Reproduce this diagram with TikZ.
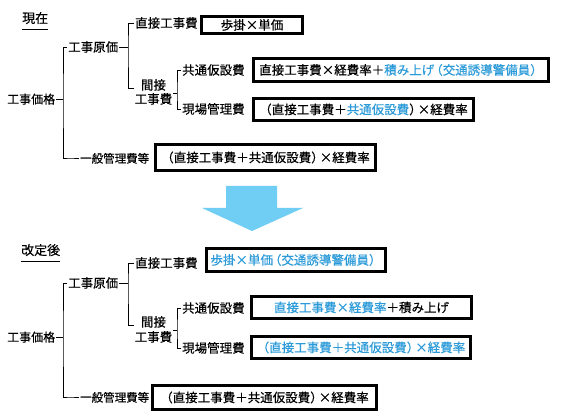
\documentclass[tikz,border=0pt]{standalone}
\usepackage{fontspec}
\setmainfont{Noto Sans CJK JP}[FakeBold=0.35]
\usetikzlibrary{calc}
\definecolor{tb}{HTML}{2A9AD8}
\definecolor{arrowblue}{HTML}{70CDF3}
\newcommand\jpf{\fontsize{12.5}{14}\selectfont}
\newcommand\jpm{\fontsize{12}{14}\selectfont}
\newcommand\jps{\fontsize{11.5}{14}\selectfont}
\newcommand\jph{\fontsize{13}{15}\selectfont}
\newcommand\tk{\kern-4pt}
\tikzset{
  lbl/.style={inner sep=1pt, anchor=west, font=\jpf, text height=9.4pt, text depth=0pt},
  clbl/.style={inner sep=1pt, font=\jpf, text height=9.4pt, text depth=0pt},
  hdr/.style={inner sep=1pt, anchor=west, font=\jph, text height=10pt, text depth=0pt},
  formbox/.style={draw, line width=2.6pt, inner sep=0pt, font=\jpf, text height=9.4pt, text depth=0pt},
  tree/.style={line width=0.7pt},
}
\begin{document}
\begin{tikzpicture}[x=1pt,y=-1pt]
\useasboundingbox (0,0) rectangle (566,419);
\fill[white] (0,0) rectangle (566,419);

% ---------- top: 現在 ----------
\node[hdr] (genzai) at (21,18) {現在};
\draw[line width=1.2pt] ($(genzai.south west)+(1,5.5)$) -- ($(genzai.south east)+(-1,5.5)$);

\node[lbl, font=\jpm] (kakaku1) at (6,99) {工事価格};
\node[lbl] (genka1) at (67,47) {工事原価};
\node[lbl, font=\jps] (ippan1) at (79,158) {一般管理費等};
\node[lbl] (choku1) at (134,23) {直接工事費};
\node[clbl] (kan1) at (153.5,85) {間接};
\node[clbl] (kohi1) at (153.5,99) {工事費};
\node[lbl] (kyotsu1) at (181,70) {共通仮設費};
\node[lbl] (genba1) at (181,109) {現場管理費};

\coordinate (t1) at (63,99);
\coordinate (j2) at (128,47);
\coordinate (j3) at (177,93);

\draw[tree] (kakaku1.east) -- (t1);
\draw[tree] (genka1.west) -| (t1) |- ([shift={(-9,0)}]ippan1.west) -- (ippan1.west);
\draw[tree] (genka1.east) -- (j2);
\draw[tree] (choku1.west) -| (j2) |- ($(kan1.west)+(-6,3)$);
\draw[tree] ($(kohi1.east)+(0,-6)$) -- (j3);
\draw[tree] (kyotsu1.west) -| (j3) |- (genba1.west);

\node[formbox, minimum width=101pt, minimum height=17pt] (b1) at (252,25) {歩掛×単価};
\node[formbox, minimum width=295pt, minimum height=23.4pt] (b2) at (401,70)
  {直接工事費×経費率＋\textcolor{tb}{積み上げ\tk（交通誘導警備員）}};
\node[formbox, minimum width=220pt, minimum height=22.4pt] (b3) at (363.5,109.5)
  {（直接工事費＋\textcolor{tb}{共通仮設費}）\tk×経費率};
\node[formbox, minimum width=220pt, minimum height=26.4pt] (b4) at (265.5,157.5)
  {（直接工事費＋共通仮設費）\tk×経費率};

% ---------- arrow ----------
\fill[arrowblue] (226,186) -- (277,186) -- (277,208) -- (303,208) -- (252,231) -- (202,208) -- (226,208) -- cycle;

% ---------- bottom: 改定後 ----------
\node[hdr] (kaitei) at (20,250) {改定後};
\draw[line width=1.2pt] ($(kaitei.south west)+(1,5.5)$) -- ($(kaitei.south east)+(-1,5.5)$);

\node[lbl, font=\jpm] (kakaku2) at (6,337) {工事価格};
\node[lbl] (genka2) at (67,283) {工事原価};
\node[lbl, font=\jps] (ippan2) at (79,397) {一般管理費等};
\node[lbl] (choku2) at (134,263) {直接工事費};
\node[clbl] (kan2) at (153.5,322) {間接};
\node[clbl] (kohi2) at (153.5,337) {工事費};
\node[lbl] (kyotsu2) at (181,308) {共通仮設費};
\node[lbl] (genba2) at (181,348) {現場管理費};

\coordinate (t2) at (63,337);
\coordinate (j4) at (128,283);
\coordinate (j5) at (177,330);

\draw[tree] (kakaku2.east) -- (t2);
\draw[tree] (genka2.west) -| (t2) |- ([shift={(-9,0)}]ippan2.west) -- (ippan2.west);
\draw[tree] (genka2.east) -- (j4);
\draw[tree] (choku2.west) -| (j4) |- ($(kan2.west)+(-6,3)$);
\draw[tree] ($(kohi2.east)+(0,-7)$) -- (j5);
\draw[tree] (kyotsu2.west) -| (j5) |- (genba2.west);

\node[formbox, minimum width=179pt, minimum height=23.4pt] (c1) at (296,260)
  {\textcolor{tb}{歩掛×単価\tk（交通誘導警備員）}};
\node[formbox, minimum width=220pt, minimum height=22.4pt] (c2) at (361.5,307.5)
  {\textcolor{tb}{直接工事費×経費率}＋積み上げ};
\node[formbox, minimum width=219pt, minimum height=22.4pt] (c3) at (361,347.5)
  {\textcolor{tb}{（直接工事費＋共通仮設費）\tk×経費率}};
\node[formbox, minimum width=224pt, minimum height=24.4pt] (c4) at (264.5,397.5)
  {（直接工事費＋共通仮設費）\tk×経費率};
\end{tikzpicture}
\end{document}
